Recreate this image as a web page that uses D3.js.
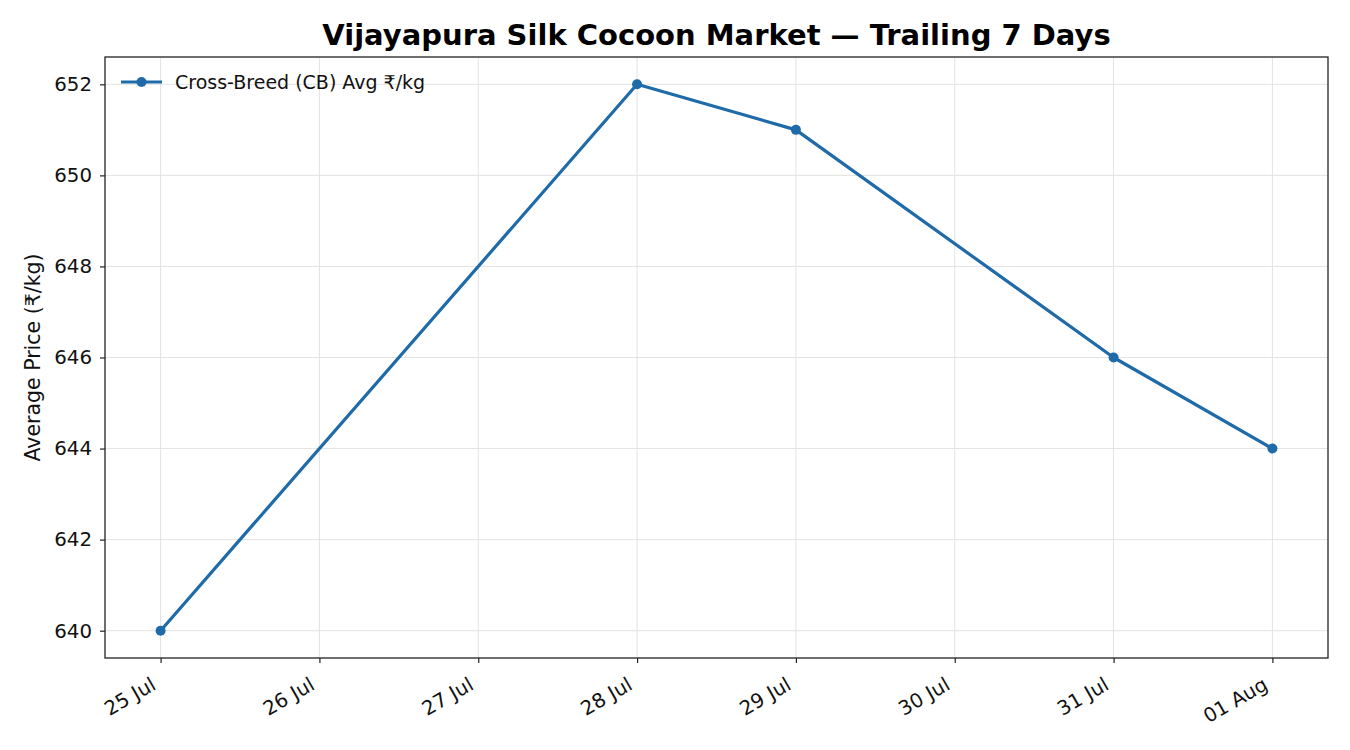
<!DOCTYPE html>
<html>
<head>
<meta charset="utf-8">
<script src="https://cdn.jsdelivr.net/npm/d3@7"></script>
<style>
  body { margin: 0; background: #fff; }
  text { font-family: "DejaVu Sans", sans-serif; }
</style>
</head>
<body>
<svg width="1350" height="750"></svg>
<script>
// data
const dates = ["2024-07-25", "2024-07-28", "2024-07-29", "2024-07-31", "2024-08-01"];
const prices = [640, 652, 651, 646, 644];
const yTicks = [640, 642, 644, 646, 648, 650, 652];
const seriesName = "Cross-Breed (CB) Avg ₹/kg";

const FONT = "DejaVu Sans";
const parse = d3.utcParse("%Y-%m-%d");
const points = dates.map((d, i) => ({ date: parse(d), value: prices[i] }));

const svg = d3.select("svg");
const m = { left: 105, right: 1328, top: 57, bottom: 658 };
const color = "#1f6aa8";

const x0 = parse("2024-07-25"), x1 = parse("2024-08-01");
const pad = (x1 - x0) * 0.05;
const x = d3.scaleUtc()
    .domain([new Date(+x0 - pad), new Date(+x1 + pad)])
    .range([m.left, m.right]);
const y = d3.scaleLinear()
    .domain([639.4, 652.6])
    .range([m.bottom, m.top]);

const xTicks = d3.utcDay.range(x0, new Date(+x1 + 1));

// grid
svg.append("g")
    .selectAll("line")
    .data(xTicks)
    .join("line")
    .attr("x1", d => x(d)).attr("x2", d => x(d))
    .attr("y1", m.top).attr("y2", m.bottom)
    .attr("stroke", "#e3e3e3").attr("stroke-width", 1);
svg.append("g")
    .selectAll("line")
    .data(yTicks)
    .join("line")
    .attr("x1", m.left).attr("x2", m.right)
    .attr("y1", d => y(d)).attr("y2", d => y(d))
    .attr("stroke", "#e3e3e3").attr("stroke-width", 1);

// axes
const xAxis = svg.append("g")
    .attr("transform", `translate(0,${m.bottom})`)
    .call(d3.axisBottom(x).tickValues(xTicks).tickFormat(d3.utcFormat("%d %b")).tickSize(5).tickSizeOuter(0));
xAxis.attr("font-family", FONT).attr("font-size", 19.8);
xAxis.select(".domain").remove();
xAxis.selectAll("line").attr("stroke", "#222").attr("stroke-width", 1.2);
xAxis.selectAll("text")
    .attr("fill", "#111")
    .attr("text-anchor", "end")
    .attr("dy", null)
    .attr("y", 0)
    .attr("transform", "translate(-11,18) rotate(-30)")
    .attr("dominant-baseline", "hanging");

const yAxis = svg.append("g")
    .attr("transform", `translate(${m.left},0)`)
    .call(d3.axisLeft(y).tickValues(yTicks).tickFormat(d3.format("d")).tickSize(5).tickPadding(8));
yAxis.attr("font-family", FONT).attr("font-size", 19.8);
yAxis.select(".domain").remove();
yAxis.selectAll("line").attr("stroke", "#222").attr("stroke-width", 1.2);
yAxis.selectAll("text").attr("fill", "#111");

// frame
svg.append("rect")
    .attr("x", m.left).attr("y", m.top)
    .attr("width", m.right - m.left).attr("height", m.bottom - m.top)
    .attr("fill", "none").attr("stroke", "#222").attr("stroke-width", 1.3);

// series
const line = d3.line().x(d => x(d.date)).y(d => y(d.value));
svg.append("path")
    .datum(points)
    .attr("d", line)
    .attr("fill", "none")
    .attr("stroke", color)
    .attr("stroke-width", 3.2)
    .attr("stroke-linejoin", "round");
svg.append("g")
    .selectAll("circle")
    .data(points)
    .join("circle")
    .attr("cx", d => x(d.date)).attr("cy", d => y(d.value))
    .attr("r", 5).attr("fill", color);

// legend
const lg = svg.append("g").attr("transform", "translate(121,82)");
lg.append("line").attr("x1", 0).attr("x2", 41).attr("stroke", color).attr("stroke-width", 3.2);
lg.append("circle").attr("cx", 20.5).attr("r", 5).attr("fill", color);
lg.append("text").attr("x", 54).attr("y", 0).attr("dy", "0.35em")
    .attr("font-family", FONT).attr("font-size", 19).attr("fill", "#111").text(seriesName);

// titles
svg.append("text")
    .attr("x", (m.left + m.right) / 2).attr("y", 45)
    .attr("text-anchor", "middle")
    .attr("font-family", FONT).attr("font-size", 29).attr("font-weight", "bold")
    .text("Vijayapura Silk Cocoon Market — Trailing 7 Days");

svg.append("text")
    .attr("transform", `translate(40,${(m.top + m.bottom) / 2}) rotate(-90)`)
    .attr("text-anchor", "middle")
    .attr("font-family", FONT).attr("font-size", 20.5).attr("fill", "#111")
    .text("Average Price (₹/kg)");
</script>
</body>
</html>
